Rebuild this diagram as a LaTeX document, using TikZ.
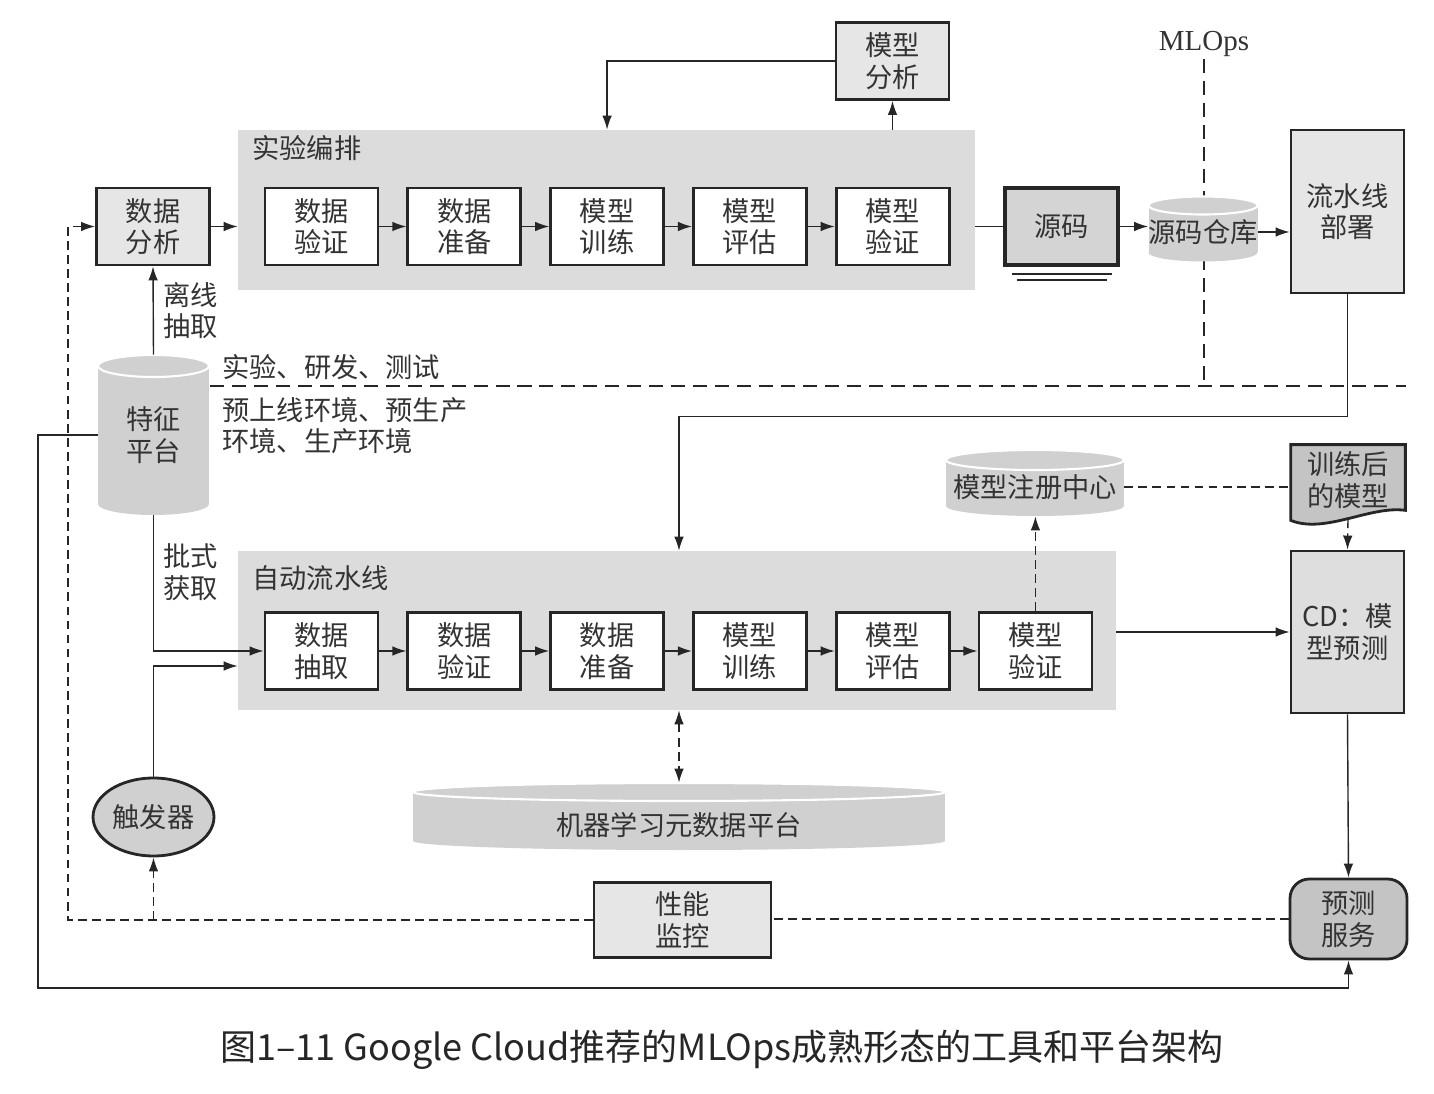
\documentclass[tikz,border=0pt]{standalone}
\usepackage{fontspec}
\setmainfont{Noto Sans CJK SC}
\newfontfamily\mlfont{Liberation Serif}
\usetikzlibrary{shapes.geometric, arrows.meta, positioning, backgrounds, calc}

\definecolor{inkgray}{HTML}{333333}
\definecolor{panelgray}{HTML}{DCDCDC}
\definecolor{lightgray}{HTML}{E6E6E6}
\definecolor{drumgray}{HTML}{D0D0D0}
\definecolor{srcgray}{HTML}{D4D4D4}
\definecolor{darkgray}{HTML}{C4C4C4}
\definecolor{cdgray}{HTML}{DEDEDE}

% drum body: centre x, centre y, half width, half height, lid radius
\newcommand{\drum}[5]{%
  \fill[drumgray] (#1-#3,#2-#4+#5) rectangle (#1+#3,#2+#4-#5);
  \fill[drumgray] (#1,#2+#4-#5) ellipse [x radius=#3, y radius=#5];
  \fill[drumgray] (#1,#2-#4+#5) ellipse [x radius=#3, y radius=#5];
  \draw[white, line width=1.2pt] (#1,#2-#4+#5) ellipse [x radius=#3, y radius=#5];
}

\begin{document}
\begin{tikzpicture}[
    x=0.02cm, y=-0.02cm,
    font=\fontsize{15.5pt}{18pt}\selectfont, text=inkgray,
    >={Latex[length=8pt,width=5.5pt]},
    box/.style={rectangle, draw=black!85, line width=1.6pt, fill=white, minimum width=2.26cm, minimum height=1.54cm, align=center, inner sep=1pt},
    gbox/.style={box, fill=lightgray},
    panel/.style={rectangle, fill=panelgray, inner sep=0pt},
    note/.style={inner sep=0pt, align=left},
    drumtext/.style={inner sep=0pt, align=center},
    trigger/.style={ellipse, draw=black!85, line width=1.6pt, fill=drumgray, minimum width=2.42cm, minimum height=1.56cm, inner sep=0pt},
    wire/.style={line width=0.8pt, draw=black!85},
    arr/.style={->, wire},
    dasharr/.style={arr, dash pattern=on 5pt off 3pt},
    dashline/.style={wire, dash pattern=on 5pt off 3pt},
    sepline/.style={wire, dash pattern=on 8pt off 4.5pt}
]
\useasboundingbox (0,0) rectangle (1434,1094);

% Panels
\node[panel, minimum width=14.74cm, minimum height=3.2cm] (expP) at (606.5,210) {};
\node[note, anchor=west] (expL) at (252,148) {实验编排};
\node[panel, minimum width=17.56cm, minimum height=3.18cm] (autoP) at (677,630.5) {};
\node[note, anchor=west] (autoL) at (252,578) {自动流水线};

% MLOps split
\node[font=\mlfont\fontsize{16.5pt}{18pt}\selectfont, inner sep=1pt] (mlops) at (1204,44) {MLOps};
\coordinate (sepL) at (210,386);
\coordinate (sepR) at (1406,386);
\draw[sepline] (sepL) -- (sepR);
\draw[sepline] (mlops.south) -- (mlops.south |- sepR);

% Drums
\drum{153.5}{435}{55.5}{80}{11}
\node[drumtext, minimum width=2.22cm, minimum height=3.2cm] (feat) at (153.5,435) {特征\\平台};
\drum{1203}{229}{54.5}{32.5}{9}
\node[drumtext, minimum width=2.18cm, minimum height=1.28cm] (repo) at (1203,232) {源码仓库};
\drum{1035}{483}{89}{33}{10}
\node[drumtext, minimum width=3.56cm, minimum height=1.16cm] (reg) at (1035,487) {模型注册中心};
\drum{679}{816.5}{266}{33.5}{9}
\node[drumtext, minimum width=10.64cm, minimum height=1.68cm] (meta) at (679,825) {机器学习元数据平台};

% Experiment row
\node[gbox] (ana) at (153,226.5) {数据\\分析};
\node[box] (dv1) at (321.5,226.5) {数据\\验证};
\node[box, right=0.54cm of dv1] (dp1) {数据\\准备};
\node[box, right=0.54cm of dp1] (mt1) {模型\\训练};
\node[box, right=0.54cm of mt1] (me1) {模型\\评估};
\node[box, right=0.54cm of me1] (mv1) {模型\\验证};
\node[gbox] (ma) at (892.5,61) {模型\\分析};
\node[box, fill=srcgray, line width=2pt] (src) at (1061.5,226.5) {源码};
\node[gbox, minimum height=3.26cm] (dep) at (1347.5,211.5) {流水线\\部署};

% Environment notes
\node[note, anchor=west] (envU) at (222,367) {实验、研发、测试};
\node[note, anchor=west] (envD) at (222,425.5) {预上线环境、预生产\\环境、生产环境};

% Pipeline row
\node[box] (dx1) at (321.5,651) {数据\\抽取};
\node[box, right=0.54cm of dx1] (dv2) {数据\\验证};
\node[box, right=0.54cm of dv2] (dp2) {数据\\准备};
\node[box, right=0.54cm of dp2] (mt2) {模型\\训练};
\node[box, right=0.54cm of mt2] (me2) {模型\\评估};
\node[box, right=0.54cm of me2] (mv2) {模型\\验证};

\node[trigger] (trig) at (153.5,817) {触发器};
\node[inner sep=0pt, minimum width=2.28cm, minimum height=1.4cm, align=center] (trained) at (1348,480) {训练后\\的模型};
\begin{scope}[on background layer]
\draw[line width=1.6pt, draw=black!85, fill=darkgray] (trained.north west) -- (trained.north east) -- ([yshift=0.1cm]trained.south east) .. controls +(-35,-5) and +(34,14) .. ([yshift=-0.1cm]trained.south west) -- cycle;
\end{scope}
\node[box, fill=cdgray, minimum height=3.24cm] (cd) at (1347.5,632) {CD：模\\型预测};
\node[box, fill=darkgray, rounded corners=11pt, minimum width=2.34cm, minimum height=1.6cm] (serve) at (1348.5,919) {预测\\服务};
\node[gbox, minimum width=3.54cm, minimum height=1.5cm] (perf) at (682.5,920) {性能\\监控};

% Caption
\node[font=\fontsize{20.5pt}{24pt}\selectfont, text=black!85] (cap) at (722,1050) {图1–11 Google Cloud推荐的MLOps成熟形态的工具和平台架构};

% Arrows, experiment
\draw[arr] (ana.east) -- (ana.east -| expP.west);
\draw[arr] (dv1) -- (dp1);
\draw[arr] (dp1) -- (mt1);
\draw[arr] (mt1) -- (me1);
\draw[arr] (me1) -- (mv1);
\draw[arr] (ma.west) -| (expP.north -| mt1);
\draw[arr] (expP.north -| ma) -- (ma.south);
\draw[wire] (expP.east |- src) -- (src.west);
\draw[wire, line width=1.1pt] ([xshift=-1cm,yshift=-0.15cm]src.south) -- ++(2cm,0);
\draw[wire, line width=1.1pt] ([xshift=-0.9cm,yshift=-0.27cm]src.south) -- ++(1.8cm,0);
\draw[arr] (src.east) -- (src.east -| repo.west);
\draw[arr] (repo.east) -- (repo.east -| dep.west);

% Feature platform
\draw[arr] (feat.north) -- node[right, xshift=2pt, align=left] {离线\\抽取} (ana.south);
\draw[arr] (feat.south) |- node[pos=0.21, right, xshift=2pt, align=left] {批式\\获取} (dx1.west);
\draw[arr] (trig.north) |- ([yshift=-0.71cm]autoP.west);

% Arrows, pipeline
\draw[arr] (dx1) -- (dv2);
\draw[arr] (dv2) -- (dp2);
\draw[arr] (dp2) -- (mt2);
\draw[arr] (mt2) -- (me2);
\draw[arr] (me2) -- (mv2);
\draw[dasharr] (mv2.north) -- (mv2.north |- reg.south);
\draw[dasharr, <->] (autoP.south -| meta) -- (meta.north);
\draw[arr] (dep.south) -- ++(0,122) -| (autoP.north -| meta);
\draw[arr] (autoP.east |- cd.west) -- (cd.west);
\draw[dashline] (reg.east) -- (reg.east -| trained.west);
\draw[dasharr] ([yshift=-0.08cm]trained.south) -- (cd.north);
\draw[arr] (cd.south) -- (serve.north);

% Monitoring loop
\coordinate (loopL) at (68,920);
\draw[dashline] (serve.west) -- (serve.west -| perf.east);
\draw[dasharr] (perf.west) -- (loopL) |- (ana.west);
\draw[dasharr] (trig |- perf.west) -- (trig.south);
\coordinate (outL) at (38,988);
\draw[arr] (feat.west) -| (outL) -| (serve.south);

\end{tikzpicture}
\end{document}
